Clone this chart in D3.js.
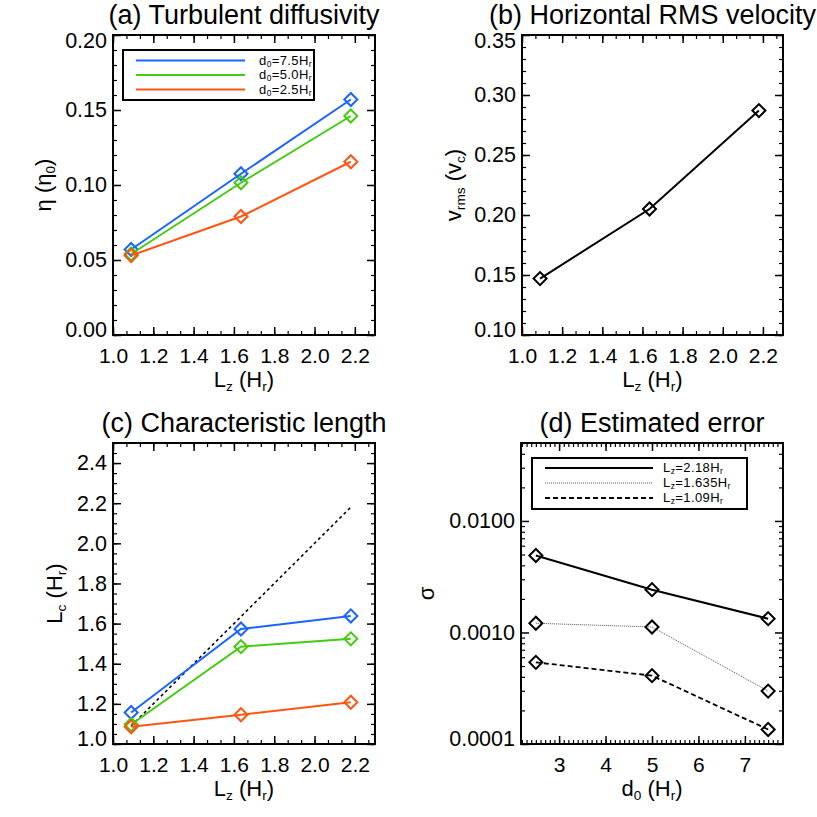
<!DOCTYPE html>
<html>
<head>
<meta charset="utf-8">
<script src="https://cdn.jsdelivr.net/npm/d3@7"></script>
<style>
  body { margin: 0; background: #fff; }
  svg { font-family: "Liberation Sans", Arial, sans-serif; }
  .tick text { fill: #000; }
  .domain { display: none; }
</style>
</head>
<body>
<div id="vis"></div>
<script>
// data
const lzValues = [1.09, 1.635, 2.18]
const d0Values = [2.5, 5.0, 7.5]

const etaD75 = [0.057, 0.1075, 0.157]
const etaD50 = [0.054, 0.1015, 0.146]
const etaD25 = [0.053, 0.079, 0.1155]

const vrms = [0.147, 0.205, 0.287]

const lcD75 = [1.157, 1.573, 1.638]
const lcD50 = [1.097, 1.485, 1.524]
const lcD25 = [1.086, 1.146, 1.208]
const identityLine = [1.09, 2.18]

const sigmaLz218 = [0.0049, 0.00242, 0.00133]
const sigmaLz1635 = [0.00121, 0.00112, 0.000298]
const sigmaLz109 = [0.00054, 0.00041, 0.000135]

const d0Labels = ['7.5', '5.0', '2.5']
const lzLabels = ['2.18', '1.635', '1.09']

const colors = {d75: '#1a64ff', d50: '#44cc11', d25: '#ff5511'}

const W = 817, H = 817

const svg = d3.select('#vis').append('svg')
    .attr('width', W)
    .attr('height', H)

// text with subscripts, parts = [[text, isSub], ...]
function richText(sel, parts, size, subScale) {
    parts.forEach(([t, sub]) => {
        sel.append('tspan')
            .attr('font-size', sub ? size * (subScale || 0.62) : size)
            .attr('baseline-shift', sub ? '-28%' : null)
            .text(t)
    })
    return sel
}

function drawPanel(cfg) {
    const b = cfg.box
    const w = b.right - b.left, h = b.bottom - b.top
    const g = svg.append('g').attr('transform', `translate(${b.left},${b.top})`)

    const x = d3.scaleLinear().domain(cfg.xDomain).range([0, w])
    const y = (cfg.yLog ? d3.scaleLog() : d3.scaleLinear()).domain(cfg.yDomain).range([h, 0])

    // major + minor ticks, all four sides, pointing in
    const sides = [
        {ax: d3.axisBottom, s: x, tr: `translate(0,${h})`, ticks: cfg.xTicks, minor: cfg.xMinor, lab: true, fmt: cfg.xFmt},
        {ax: d3.axisTop, s: x, tr: 'translate(0,0)', ticks: cfg.xTicks, minor: cfg.xMinor, lab: false},
        {ax: d3.axisLeft, s: y, tr: 'translate(0,0)', ticks: cfg.yTicks, minor: cfg.yMinor, lab: true, fmt: cfg.yFmt},
        {ax: d3.axisRight, s: y, tr: `translate(${w},0)`, ticks: cfg.yTicks, minor: cfg.yMinor, lab: false}
    ]
    sides.forEach(sd => {
        g.append('g').attr('transform', sd.tr)
            .call(sd.ax(sd.s).tickValues(sd.minor).tickSize(-4).tickFormat(''))
            .selectAll('line').attr('stroke-width', 1.2)
        const isBottom = sd.ax === d3.axisBottom
        const ag = g.append('g').attr('transform', sd.tr)
            .call(sd.ax(sd.s).tickValues(sd.ticks).tickSize(-8)
                .tickPadding(isBottom ? 13 : 6)
                .tickFormat(sd.lab ? sd.fmt : ''))
        ag.selectAll('line').attr('stroke-width', 1.5)
        ag.selectAll('text').attr('font-size', isBottom ? 21 : 21.5)
        if (sd.lab && (sd.ax === d3.axisLeft)) {
            // end labels sit slightly inside the box
            ag.selectAll('.tick text').attr('dy', d => {
                const py = y(d)
                if (py < 2) return '0.6em'
                if (py > h - 2) return '0.08em'
                return '0.32em'
            })
        }
    })

    g.append('rect').attr('width', w).attr('height', h)
        .attr('fill', 'none').attr('stroke', '#000').attr('stroke-width', 2)

    // title
    svg.append('text')
        .attr('x', b.left + w / 2).attr('y', b.top - 11)
        .attr('text-anchor', 'middle').attr('font-size', 27)
        .text(cfg.title)

    // x label
    richText(svg.append('text')
        .attr('x', b.left + w / 2).attr('y', b.bottom + 52)
        .attr('text-anchor', 'middle'), cfg.xLabel, 22)

    // y label
    richText(svg.append('text')
        .attr('transform', `translate(${cfg.yLabelX},${b.top + h / 2}) rotate(-90)`)
        .attr('text-anchor', 'middle'), cfg.yLabel, 22)

    const line = d3.line().x(d => x(d[0])).y(d => y(d[1]))

    cfg.series.forEach(s => {
        const pts = s.xs.map((v, i) => [v, s.ys[i]])
        g.append('path').datum(pts)
            .attr('d', line)
            .attr('fill', 'none')
            .attr('stroke', s.color)
            .attr('stroke-width', s.width || 2)
            .attr('stroke-dasharray', s.dash || null)
        if (s.markers !== false) {
            g.selectAll(null).data(pts).join('path')
                .attr('d', d3.symbol(d3.symbolSquare, 85)())
                .attr('transform', d => `translate(${x(d[0])},${y(d[1])}) rotate(45)`)
                .attr('fill', 'none')
                .attr('stroke', s.markColor || s.color)
                .attr('stroke-width', 2)
        }
    })

    if (cfg.legend) {
        const L = cfg.legend
        g.append('rect')
            .attr('x', L.x).attr('y', L.y).attr('width', L.w).attr('height', L.h)
            .attr('fill', '#fff').attr('stroke', '#000').attr('stroke-width', 2)
        L.items.forEach((it, i) => {
            const yy = L.y + L.rowY[i]
            g.append('line')
                .attr('x1', L.lx1).attr('x2', L.lx2).attr('y1', yy).attr('y2', yy)
                .attr('stroke', it.color).attr('stroke-width', it.width || 2)
                .attr('stroke-dasharray', it.dash || null)
            richText(g.append('text')
                .attr('x', L.tx).attr('y', yy + 4)
                .attr('letter-spacing', 0.4)
                .attr('text-anchor', L.anchor), it.label, 13, 0.65)
        })
    }
}

const fmt2 = d3.format('.2f')
const fmt1 = d3.format('.1f')

// (a)
drawPanel({
    box: {left: 113, top: 35, right: 375, bottom: 335},
    title: '(a) Turbulent diffusivity',
    xDomain: [1.0, 2.3], yDomain: [0, 0.2],
    xTicks: [1.0, 1.2, 1.4, 1.6, 1.8, 2.0, 2.2], xMinor: d3.range(1.0, 2.31, 0.2 / 3), xFmt: fmt1,
    yTicks: [0, 0.05, 0.1, 0.15, 0.2], yMinor: d3.range(0, 0.201, 0.01), yFmt: fmt2,
    xLabel: [['L', 0], ['z', 1], [' (H', 0], ['r', 1], [')', 0]],
    yLabel: [['η (η', 0], ['0', 1], [')', 0]], yLabelX: 51,
    series: [
        {xs: lzValues, ys: etaD75, color: colors.d75},
        {xs: lzValues, ys: etaD50, color: colors.d50},
        {xs: lzValues, ys: etaD25, color: colors.d25}
    ],
    legend: {
        x: 10, y: 15, w: 191, h: 50, lx1: 23, lx2: 132, tx: 199, anchor: 'end',
        rowY: [10.5, 25, 39.5],
        items: [
            {color: colors.d75, label: [['d', 0], ['0', 1], ['=' + d0Labels[0] + 'H', 0], ['r', 1]]},
            {color: colors.d50, label: [['d', 0], ['0', 1], ['=' + d0Labels[1] + 'H', 0], ['r', 1]]},
            {color: colors.d25, label: [['d', 0], ['0', 1], ['=' + d0Labels[2] + 'H', 0], ['r', 1]]}
        ]
    }
})

// (b)
drawPanel({
    box: {left: 522, top: 35, right: 783, bottom: 335},
    title: '(b) Horizontal RMS velocity',
    xDomain: [1.0, 2.3], yDomain: [0.1, 0.35],
    xTicks: [1.0, 1.2, 1.4, 1.6, 1.8, 2.0, 2.2], xMinor: d3.range(1.0, 2.31, 0.2 / 3), xFmt: fmt1,
    yTicks: [0.1, 0.15, 0.2, 0.25, 0.3, 0.35], yMinor: d3.range(0.1, 0.351, 0.01), yFmt: fmt2,
    xLabel: [['L', 0], ['z', 1], [' (H', 0], ['r', 1], [')', 0]],
    yLabel: [['v', 0], ['rms', 1], [' (v', 0], ['c', 1], [')', 0]], yLabelX: 461,
    series: [{xs: lzValues, ys: vrms, color: '#000'}]
})

// (c)
drawPanel({
    box: {left: 113, top: 443, right: 375, bottom: 744},
    title: '(c) Characteristic length',
    xDomain: [1.0, 2.3], yDomain: [1.0, 2.5],
    xTicks: [1.0, 1.2, 1.4, 1.6, 1.8, 2.0, 2.2], xMinor: d3.range(1.0, 2.31, 0.2 / 3), xFmt: fmt1,
    yTicks: [1.0, 1.2, 1.4, 1.6, 1.8, 2.0, 2.2, 2.4], yMinor: d3.range(1.0, 2.501, 0.05), yFmt: fmt1,
    xLabel: [['L', 0], ['z', 1], [' (H', 0], ['r', 1], [')', 0]],
    yLabel: [['L', 0], ['c', 1], [' (H', 0], ['r', 1], [')', 0]], yLabelX: 62,
    series: [
        {xs: identityLine, ys: identityLine, color: '#000', width: 1.6, dash: '3,3', markers: false},
        {xs: lzValues, ys: lcD75, color: colors.d75},
        {xs: lzValues, ys: lcD50, color: colors.d50},
        {xs: lzValues, ys: lcD25, color: colors.d25}
    ]
})

// (d)
drawPanel({
    box: {left: 521, top: 443, right: 783, bottom: 744},
    title: '(d) Estimated error',
    xDomain: [2.18, 7.82], yDomain: [0.0001, 0.05], yLog: true,
    xTicks: [3, 4, 5, 6, 7], xMinor: d3.range(2.2, 7.81, 0.1), xFmt: d3.format('d'),
    yTicks: [0.0001, 0.001, 0.01],
    yMinor: [0.0002, 0.0003, 0.0004, 0.0005, 0.0006, 0.0007, 0.0008, 0.0009,
        0.002, 0.003, 0.004, 0.005, 0.006, 0.007, 0.008, 0.009, 0.02, 0.03, 0.04, 0.05],
    yFmt: d3.format('.4f'),
    xLabel: [['d', 0], ['0', 1], [' (H', 0], ['r', 1], [')', 0]],
    yLabel: [['σ', 0]], yLabelX: 434,
    series: [
        {xs: d0Values, ys: sigmaLz218, color: '#000', width: 2},
        {xs: d0Values, ys: sigmaLz1635, color: '#555', width: 1, dash: '1,1', markColor: '#000'},
        {xs: d0Values, ys: sigmaLz109, color: '#000', width: 1.8, dash: '5,3'}
    ],
    legend: {
        x: 11, y: 15, w: 215, h: 51, lx1: 24, lx2: 132, tx: 142, anchor: 'start',
        rowY: [10, 25, 40],
        items: [
            {color: '#000', width: 2, label: [['L', 0], ['z', 1], ['=' + lzLabels[0] + 'H', 0], ['r', 1]]},
            {color: '#555', width: 1, dash: '1,1', label: [['L', 0], ['z', 1], ['=' + lzLabels[1] + 'H', 0], ['r', 1]]},
            {color: '#000', width: 1.8, dash: '5,3', label: [['L', 0], ['z', 1], ['=' + lzLabels[2] + 'H', 0], ['r', 1]]}
        ]
    }
})
</script>
</body>
</html>
